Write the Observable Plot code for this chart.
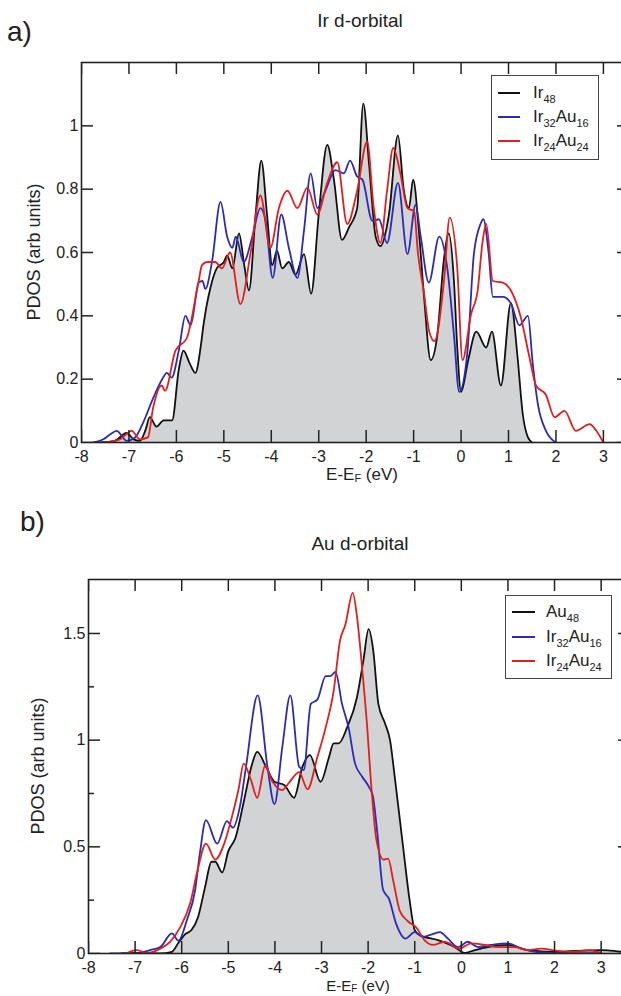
<!DOCTYPE html>
<html>
<head>
<meta charset="utf-8">
<script src="https://cdn.jsdelivr.net/npm/d3@7"></script>
<script src="https://cdn.jsdelivr.net/npm/@observablehq/plot@0.6"></script>
<style>
  html, body { margin: 0; padding: 0; background: #fff; overflow: hidden; }
  #root { position: relative; width: 621px; height: 996px; overflow: hidden; font-family: "Liberation Sans", Arial, sans-serif; color: #222; }
  .abs { position: absolute; white-space: nowrap; line-height: 1; }
  .legend { position: absolute; border: 1px solid #444; background: #fff; box-sizing: border-box; }
  .legend .row { position: absolute; left: 0; height: 20px; }
  .legend .sw { position: absolute; height: 0; border-top: 2px solid; }
  .legend .lab { position: absolute; font-size: 17px; line-height: 20px; }
  sub { font-size: 11px; vertical-align: -5px; line-height: 0; }
  .xlab sub { vertical-align: -2px; }
  .xlab2 sub { font-size: 10px; vertical-align: -1px; }
</style>
</head>
<body>
<div id="root"></div>
<script>
// ---------------- data ----------------
const panelLabels = ["a)", "b)"];
const panelTitles = ["Ir d-orbital", "Au d-orbital"];
const xAxisLabel = ["E-E", "F", " (eV)"];
const yAxisLabel = "PDOS (arb units)";
const xTicks = [-8, -7, -6, -5, -4, -3, -2, -1, 0, 1, 2, 3];
const yTicksA = [0, 0.2, 0.4, 0.6, 0.8, 1];
const yTicksB = [0, 0.5, 1, 1.5];
const yMinorB = [0.25, 0.75, 1.25];
const seriesColors = ["#111111", "#2b2bb5", "#e01f1f"];
const legendA = [["Ir", "48"], ["Ir", "32", "Au", "16"], ["Ir", "24", "Au", "24"]];
const legendB = [["Au", "48"], ["Ir", "32", "Au", "16"], ["Ir", "24", "Au", "24"]];

// Panel a: Ir d-orbital PDOS  [E-EF, PDOS]
const irIr48 = [[-7.6,0],[-7.3,0.005],[-7.05,0.03],[-6.9,0.01],[-6.77,0.005],[-6.65,0.04],[-6.56,0.08],[-6.42,0.05],[-6.27,0.07],[-6.09,0.07],[-5.95,0.23],[-5.85,0.29],[-5.72,0.25],[-5.6,0.22],[-5.49,0.30],[-5.43,0.37],[-5.28,0.49],[-5.15,0.55],[-5.0,0.57],[-4.93,0.59],[-4.82,0.55],[-4.68,0.66],[-4.57,0.56],[-4.47,0.48],[-4.33,0.72],[-4.21,0.89],[-4.09,0.72],[-3.98,0.56],[-3.88,0.605],[-3.77,0.55],[-3.63,0.57],[-3.49,0.53],[-3.31,0.595],[-3.16,0.47],[-3.0,0.72],[-2.82,0.94],[-2.68,0.83],[-2.51,0.64],[-2.36,0.68],[-2.19,0.74],[-2.06,1.07],[-1.94,0.88],[-1.80,0.65],[-1.70,0.62],[-1.52,0.72],[-1.33,0.97],[-1.21,0.80],[-1.10,0.74],[-1.01,0.83],[-0.89,0.67],[-0.78,0.46],[-0.64,0.26],[-0.50,0.34],[-0.36,0.58],[-0.26,0.66],[-0.15,0.51],[-0.08,0.30],[0.0,0.16],[0.15,0.26],[0.32,0.35],[0.53,0.30],[0.65,0.35],[0.84,0.18],[1.05,0.44],[1.19,0.27],[1.30,0.09],[1.41,0.016],[1.5,0]];
const irIr32Au16 = [[-7.75,0],[-7.54,0.01],[-7.4,0.025],[-7.26,0.037],[-7.05,0.005],[-6.87,0.016],[-6.7,0.063],[-6.49,0.14],[-6.3,0.2],[-6.2,0.22],[-6.1,0.205],[-5.95,0.29],[-5.81,0.40],[-5.7,0.37],[-5.53,0.505],[-5.45,0.51],[-5.39,0.485],[-5.25,0.57],[-5.07,0.76],[-4.93,0.65],[-4.82,0.615],[-4.75,0.65],[-4.58,0.57],[-4.40,0.65],[-4.23,0.74],[-4.12,0.70],[-3.97,0.52],[-3.79,0.72],[-3.63,0.615],[-3.45,0.52],[-3.31,0.67],[-3.17,0.85],[-3.03,0.74],[-2.86,0.795],[-2.65,0.86],[-2.47,0.85],[-2.34,0.89],[-2.19,0.84],[-2.08,0.83],[-1.87,0.70],[-1.73,0.705],[-1.56,0.63],[-1.33,0.82],[-1.13,0.595],[-0.96,0.75],[-0.85,0.65],[-0.68,0.505],[-0.46,0.65],[-0.29,0.55],[-0.15,0.34],[-0.04,0.16],[0.13,0.28],[0.27,0.595],[0.41,0.69],[0.47,0.705],[0.58,0.6],[0.67,0.46],[0.88,0.46],[1.05,0.44],[1.23,0.37],[1.41,0.40],[1.51,0.25],[1.62,0.12],[1.79,0.037],[2.0,0]];
const irIr24Au24 = [[-7.54,0],[-7.19,0.01],[-6.94,0.037],[-6.77,0.01],[-6.6,0.016],[-6.49,0.11],[-6.31,0.18],[-6.24,0.163],[-6.02,0.29],[-5.78,0.33],[-5.53,0.51],[-5.46,0.56],[-5.35,0.57],[-5.18,0.57],[-5.04,0.55],[-4.87,0.60],[-4.65,0.437],[-4.44,0.595],[-4.23,0.78],[-4.02,0.615],[-3.84,0.74],[-3.66,0.795],[-3.45,0.74],[-3.24,0.805],[-3.03,0.72],[-2.82,0.82],[-2.61,0.885],[-2.40,0.69],[-2.19,0.795],[-1.98,0.95],[-1.84,0.74],[-1.70,0.63],[-1.56,0.795],[-1.43,0.93],[-1.28,0.85],[-1.13,0.74],[-0.99,0.73],[-0.91,0.6],[-0.78,0.47],[-0.67,0.35],[-0.56,0.32],[-0.36,0.51],[-0.24,0.71],[-0.08,0.55],[0.03,0.26],[0.21,0.405],[0.35,0.48],[0.45,0.63],[0.53,0.69],[0.67,0.51],[0.88,0.505],[1.05,0.48],[1.26,0.395],[1.44,0.27],[1.58,0.18],[1.79,0.15],[1.97,0.08],[2.18,0.10],[2.42,0.037],[2.71,0.058],[2.85,0.037],[3.0,0]];

// Panel b: Au d-orbital PDOS  [E-EF, PDOS]
const auAu48 = [[-7.3,0],[-6.82,0.003],[-6.46,0],[-6.21,0.008],[-6.07,0.05],[-5.93,0.09],[-5.79,0.11],[-5.65,0.17],[-5.5,0.31],[-5.36,0.43],[-5.28,0.43],[-5.13,0.38],[-5.0,0.48],[-4.85,0.54],[-4.65,0.73],[-4.5,0.88],[-4.38,0.945],[-4.19,0.875],[-4.01,0.805],[-3.80,0.79],[-3.59,0.73],[-3.41,0.875],[-3.25,0.93],[-3.02,0.805],[-2.84,0.92],[-2.74,0.985],[-2.63,0.985],[-2.45,1.06],[-2.24,1.20],[-2.10,1.375],[-1.99,1.52],[-1.89,1.42],[-1.78,1.17],[-1.64,1.08],[-1.53,1.0],[-1.43,0.83],[-1.25,0.50],[-1.11,0.25],[-1.0,0.11],[-0.89,0.086],[-0.5,0.0625],[-0.14,0.03],[0.07,0.003],[0.29,0.016],[0.57,0.03],[1.0,0.04],[1.43,0.016],[2.0,0.008],[3.0,0.016],[3.14,0.015],[3.6,0.003]];
const auIr32Au16 = [[-7.54,0],[-6.96,0.002],[-6.68,0.016],[-6.46,0.03],[-6.21,0.094],[-6.07,0.06],[-5.89,0.156],[-5.71,0.30],[-5.61,0.47],[-5.48,0.625],[-5.24,0.515],[-5.03,0.62],[-4.90,0.59],[-4.75,0.69],[-4.62,0.875],[-4.37,1.21],[-4.16,0.875],[-4.01,0.70],[-3.84,0.97],[-3.67,1.21],[-3.48,0.875],[-3.38,0.86],[-3.23,1.17],[-3.09,1.19],[-2.91,1.30],[-2.81,1.30],[-2.70,1.32],[-2.56,1.17],[-2.42,1.06],[-2.28,0.89],[-2.13,0.83],[-1.98,0.78],[-1.9,0.74],[-1.8,0.56],[-1.68,0.30],[-1.55,0.255],[-1.4,0.14],[-1.2,0.07],[-1.0,0.10],[-0.82,0.078],[-0.68,0.086],[-0.46,0.10],[-0.29,0.07],[-0.07,0.03],[0.14,0.055],[0.36,0.03],[0.64,0.04],[1.0,0.047],[1.29,0.023],[1.71,0.005],[2.29,0.002],[3.0,0.002]];
const auIr24Au24 = [[-7.2,0],[-6.96,0.016],[-6.75,0.002],[-6.46,0.023],[-6.25,0.055],[-6.04,0.12],[-5.82,0.234],[-5.66,0.39],[-5.48,0.515],[-5.28,0.44],[-5.08,0.52],[-4.9,0.66],[-4.78,0.77],[-4.67,0.89],[-4.51,0.81],[-4.38,0.73],[-4.21,0.88],[-4.05,0.805],[-3.84,0.766],[-3.70,0.80],[-3.48,0.85],[-3.30,0.77],[-3.09,0.92],[-2.91,1.06],[-2.74,1.23],[-2.60,1.47],[-2.49,1.54],[-2.33,1.69],[-2.24,1.58],[-2.13,1.34],[-2.03,1.09],[-1.92,0.75],[-1.82,0.53],[-1.67,0.44],[-1.57,0.445],[-1.46,0.34],[-1.32,0.20],[-1.14,0.15],[-0.96,0.12],[-0.79,0.0625],[-0.61,0.04],[-0.36,0.055],[-0.04,0.023],[0.21,0.047],[0.5,0.04],[0.79,0.03],[1.14,0.03],[1.43,0.016],[1.71,0.023],[2.07,0.0125],[2.43,0.008],[2.71,0.016],[3.0,0.003]];

// ---------------- drawing ----------------
const root = document.getElementById("root");
const FONT = '"Liberation Sans", Arial, sans-serif';

function addText(html, css, cls) {
  const d = document.createElement("div");
  d.className = "abs" + (cls ? " " + cls : "");
  d.innerHTML = html;
  Object.assign(d.style, css);
  root.appendChild(d);
  return d;
}

function makePanel(cfg) {
  const innerW = cfg.width - cfg.marginLeft - cfg.marginRight;
  const innerH = cfg.height - cfg.marginTop - cfg.marginBottom;
  const X = d => d[0], Y = d => d[1];
  const tickLen = 12, minorLen = 6;
  const tk = {stroke: "#222", strokeWidth: 1.5};
  const marks = [
    Plot.areaY(cfg.series[0], {x: X, y: Y, fill: "#d2d3d5", curve: "monotone-x"}),
    ...cfg.series.map((s, i) => Plot.line(s, {x: X, y: Y, stroke: seriesColors[i], strokeWidth: 1.8, curve: "monotone-x"})),
    // inward ticks, bottom and top
    Plot.ruleX(xTicks, {x: d => d, insetTop: innerH - tickLen, ...tk}),
    Plot.ruleX(xTicks, {x: d => d, insetBottom: innerH - tickLen, ...tk}),
    // inward ticks, left and right
    Plot.ruleY(cfg.yTicks, {y: d => d, insetRight: innerW - tickLen, ...tk}),
    Plot.ruleY(cfg.yTicks, {y: d => d, insetLeft: innerW - tickLen, ...tk}),
    Plot.ruleY(cfg.yMinor, {y: d => d, insetRight: innerW - minorLen, ...tk}),
    Plot.ruleY(cfg.yMinor, {y: d => d, insetLeft: innerW - minorLen, ...tk}),
    Plot.axisX(xTicks, {tickSize: 0, tickPadding: cfg.xPad, tickFormat: d => String(d), label: null, fontSize: 16}),
    Plot.axisY(cfg.yTicks, {tickSize: 0, tickPadding: 3, tickFormat: d => String(d), label: null, fontSize: 16}),
    Plot.frame({stroke: "#222", strokeWidth: 1.6})
  ];
  const svg = Plot.plot({
    width: cfg.width, height: cfg.height,
    marginLeft: cfg.marginLeft, marginRight: cfg.marginRight,
    marginTop: cfg.marginTop, marginBottom: cfg.marginBottom,
    x: {domain: cfg.xDomain, axis: null},
    y: {domain: cfg.yDomain, axis: null},
    clip: true,
    style: {fontFamily: FONT, fontSize: "16px", color: "#222", background: "transparent", overflow: "visible"},
    marks
  });
  svg.style.position = "absolute";
  svg.style.left = "0px";
  svg.style.top = cfg.top + "px";
  svg.style.maxWidth = "none";
  svg.style.width = cfg.width + "px";
  svg.style.height = cfg.height + "px";
  root.appendChild(svg);
}

function makeLegend(items, box) {
  const lg = document.createElement("div");
  lg.className = "legend";
  Object.assign(lg.style, {left: box.left + "px", top: box.top + "px", width: box.width + "px", height: box.height + "px"});
  items.forEach((it, i) => {
    const row = document.createElement("div");
    row.className = "row";
    row.style.top = (box.rowTop + i * box.rowStep - 10) + "px";
    const sw = document.createElement("div");
    sw.className = "sw";
    Object.assign(sw.style, {left: box.swLeft + "px", width: box.swWidth + "px", top: "9px", borderTopColor: seriesColors[i]});
    const lab = document.createElement("div");
    lab.className = "lab";
    lab.style.left = box.textLeft + "px";
    let html = "";
    for (let k = 0; k < it.length; k += 2) html += it[k] + "<sub>" + it[k + 1] + "</sub>";
    lab.innerHTML = html;
    row.appendChild(sw); row.appendChild(lab);
    lg.appendChild(row);
  });
  root.appendChild(lg);
}

// Panel a
makePanel({
  top: 50, width: 640, height: 440,
  marginLeft: 81, marginRight: 11, marginTop: 12, marginBottom: 48,
  xDomain: [-8, 3.55], yDomain: [0, 1.2],
  yTicks: yTicksA, yMinor: [], xPad: 8,
  series: [irIr48, irIr32Au16, irIr24Au24]
});
// Panel b
makePanel({
  top: 569, width: 640, height: 427,
  marginLeft: 88, marginRight: 10, marginTop: 10, marginBottom: 43,
  xDomain: [-8, 3.63], yDomain: [0, 1.753],
  yTicks: yTicksB, yMinor: yMinorB, xPad: 8,
  series: [auAu48, auIr32Au16, auIr24Au24]
});

// labels and titles
addText(panelLabels[0], {left: "7px", top: "18px", fontSize: "28px"});
addText(panelTitles[0], {left: "360px", top: "11px", fontSize: "19px", transform: "translateX(-50%)"});
addText(panelLabels[1], {left: "20px", top: "508px", fontSize: "28px"});
addText(panelTitles[1], {left: "360px", top: "534px", fontSize: "19px", transform: "translateX(-50%)"});

const xl = xAxisLabel[0] + "<sub>" + xAxisLabel[1] + "</sub>" + xAxisLabel[2];
addText(xl, {left: "362px", top: "466px", fontSize: "17px", transform: "translateX(-50%)"}, "xlab");
addText(xl, {left: "358px", top: "978px", fontSize: "15px", transform: "translateX(-50%)"}, "xlab2");

addText(yAxisLabel, {left: "34px", top: "252px", fontSize: "18px", transform: "translate(-50%,-50%) rotate(-90deg)"});
addText(yAxisLabel, {left: "38px", top: "766px", fontSize: "18px", transform: "translate(-50%,-50%) rotate(-90deg)"});

makeLegend(legendA, {left: 491, top: 75, width: 108, height: 85, rowTop: 17, rowStep: 24, swLeft: 6, swWidth: 22, textLeft: 41});
makeLegend(legendB, {left: 505, top: 595, width: 107, height: 84, rowTop: 16, rowStep: 24.5, swLeft: 6, swWidth: 23, textLeft: 40});
</script>
</body>
</html>
